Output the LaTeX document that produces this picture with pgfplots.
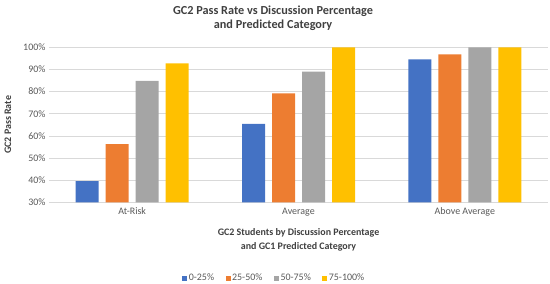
\documentclass[border=0pt]{standalone}
\usepackage{pgfplots}
\pgfplotsset{compat=1.18}
\usepackage{fontspec}
\setmainfont{Carlito}
\definecolor{cblue}{HTML}{4472C4}
\definecolor{corange}{HTML}{ED7D31}
\definecolor{cgray}{HTML}{A5A5A5}
\definecolor{cyellow}{HTML}{FFC000}
\definecolor{gridc}{HTML}{D9D9D9}
\definecolor{tickc}{HTML}{595959}
\definecolor{titlec}{HTML}{404040}
\begin{document}
\begin{tikzpicture}[x=1bp,y=1bp]
\path[use as bounding box] (0,0) rectangle (550,283);
\begin{axis}[
  at={(49bp,80.7bp)}, anchor=south west,
  scale only axis, width=499bp, height=155bp,
  xmin=-0.5, xmax=2.5, ymin=30, ymax=100,
  ybar, bar width=23bp,
  xtick={0,1,2}, xticklabels={At-Risk,Average,Above Average},
  ytick={30,40,...,100},
  yticklabel={\pgfmathprintnumber[assume math mode=true]{\tick}\%},
  major tick length=0pt,
  ymajorgrids, grid style={color=gridc, line width=0.7bp},
  axis line style={draw=none},
  tick label style={font=\fontsize{10}{12}\selectfont, text=tickc},
  xticklabel style={yshift=-2bp},
  title={GC2 Pass Rate vs Discussion Percentage\\and Predicted Category},
  title style={font=\fontsize{12.3}{13.7}\selectfont\bfseries, text=titlec, align=center,
    at={(axis description cs:0.449,1)}, anchor=south, inner sep=0pt, yshift=10.5bp},
  xlabel={GC2 Students by Discussion Percentage\\and GC1 Predicted Category},
  xlabel style={font=\fontsize{10}{13.3}\selectfont\bfseries, text=titlec, align=center,
    at={(axis description cs:0.5,0)}, anchor=north, inner sep=0pt, yshift=-26.5bp},
  ylabel={GC2 Pass Rate},
  ylabel style={font=\fontsize{10}{12}\selectfont\bfseries, text=titlec,
    at={(axis description cs:-0.0822,0.5)}, anchor=center, rotate=0},
  legend columns=4,
  legend image code/.code={\fill[#1] (0bp,-2.5bp) rectangle (5bp,2.5bp);},
  legend style={draw=none, fill=none, font=\fontsize{10}{12}\selectfont, text=tickc,
    at={(axis description cs:0.451,-0.4896)}, anchor=center,
    nodes={inner sep=1.5bp},
    /tikz/every even column/.append style={column sep=10bp}},
]
\addplot[fill=cblue, draw=none, bar shift=-45bp] coordinates {(0,39.6) (1,65.4) (2,94.6)};
\addplot[fill=corange, draw=none, bar shift=-15bp] coordinates {(0,56.3) (1,79.2) (2,96.8)};
\addplot[fill=cgray, draw=none, bar shift=15bp] coordinates {(0,84.8) (1,89.0) (2,100)};
\addplot[fill=cyellow, draw=none, bar shift=45bp] coordinates {(0,92.8) (1,100) (2,100)};
\legend{0-25\%,25-50\%,50-75\%,75-100\%}
\end{axis}
\end{tikzpicture}
\end{document}
